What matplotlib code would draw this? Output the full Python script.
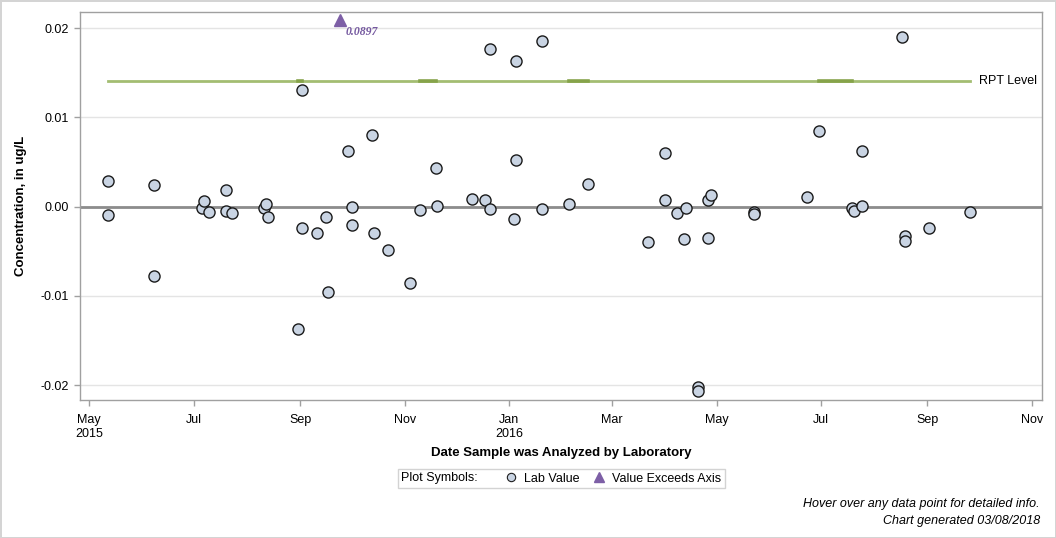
import numpy as np
import pandas as pd
import matplotlib
matplotlib.use("Agg")
import matplotlib.pyplot as plt
import matplotlib.dates as mdates
from matplotlib.lines import Line2D

plt.rcParams["font.family"] = ["Liberation Sans", "DejaVu Sans"]
plt.rcParams["font.size"] = 9

# lab results, one entry per sample
sample_dates = [
    "2015-05-12", "2015-05-12", "2015-06-08", "2015-06-08", "2015-07-06",
    "2015-07-07", "2015-07-10", "2015-07-20", "2015-07-20", "2015-07-23",
    "2015-08-11", "2015-08-12", "2015-08-13", "2015-08-31", "2015-09-02",
    "2015-09-02", "2015-09-11", "2015-09-16", "2015-09-17", "2015-09-29",
    "2015-10-01", "2015-10-01", "2015-10-13", "2015-10-14", "2015-10-22",
    "2015-11-04", "2015-11-10", "2015-11-19", "2015-11-20", "2015-12-10",
    "2015-12-18", "2015-12-21", "2015-12-21", "2016-01-04", "2016-01-05",
    "2016-01-05", "2016-01-20", "2016-01-20", "2016-02-05", "2016-02-16",
    "2016-03-22", "2016-04-01", "2016-04-01", "2016-04-08", "2016-04-12",
    "2016-04-13", "2016-04-20", "2016-04-20", "2016-04-26", "2016-04-26",
    "2016-04-28", "2016-05-23", "2016-05-23", "2016-06-23", "2016-06-30",
    "2016-07-19", "2016-07-20", "2016-07-25", "2016-07-25", "2016-08-17",
    "2016-08-19", "2016-08-19", "2016-09-02", "2016-09-26",
]
lab_values = [
    0.0029, -0.0009, 0.0024, -0.0078, -0.0002,
    0.0006, -0.0006, 0.0019, -0.0005, -0.0007,
    -0.0001, 0.0003, -0.0012, -0.0137, 0.0131,
    -0.0024, -0.0030, -0.0012, -0.0096, 0.0062,
    0.0000, -0.0021, 0.0080, -0.0029, -0.0048,
    -0.0085, -0.0004, 0.0043, 0.0001, 0.0009,
    0.0007, 0.0177, -0.0003, -0.0014, 0.0163,
    0.0052, 0.0186, -0.0003, 0.0003, 0.0025,
    -0.0040, 0.0060, 0.0007, -0.0007, -0.0036,
    -0.0002, -0.0202, -0.0206, 0.0008, -0.0035,
    0.0013, -0.0006, -0.0008, 0.0011, 0.0085,
    -0.0002, -0.0005, 0.0062, 0.0001, 0.0190,
    -0.0033, -0.0039, -0.0024, -0.0006,
]

exceed_dates = ["2015-09-24"]
exceed_values = [0.0897]

rpt_level = 0.0141
rpt_start, rpt_end = "2015-05-12", "2016-09-26"
rpt_overlap = [("2015-08-31", "2015-09-02"), ("2015-11-10", "2015-11-19"),
               ("2016-02-05", "2016-02-16"), ("2016-06-30", "2016-07-19")]

y_ticks = [-0.02, -0.01, 0.0, 0.01, 0.02]
y_ticklabels = ["-0.02", "-0.01", "0.00", "0.01", "0.02"]

x = mdates.date2num(pd.to_datetime(sample_dates))
xe = mdates.date2num(pd.to_datetime(exceed_dates))

fig = plt.figure(figsize=(10.56, 5.38), dpi=100)
fig.patch.set_edgecolor("#d4d4d4")
fig.patch.set_linewidth(2)
ax = fig.add_axes([80 / 1056, 1 - 400 / 538, 962 / 1056, 388 / 538])
ax.xaxis_date()

ax.set_xlim(mdates.date2num(pd.Timestamp("2015-04-25 14:00")),
            mdates.date2num(pd.Timestamp("2016-11-06 20:00")))
ax.set_ylim(-0.02165, 0.0218)
ax.set_yticks(y_ticks)
ax.set_yticklabels(y_ticklabels)
for yv in y_ticks:
    ax.axhline(yv, color="#e4e4e4", lw=1, zorder=0)
ax.axhline(0, color="#8c8c8c", lw=2, zorder=1)

# reporting level
r0, r1 = mdates.date2num(pd.to_datetime([rpt_start, rpt_end]))
ax.plot([r0, r1], [rpt_level] * 2, color="#a3bd72", lw=2, zorder=2)
for a, b in rpt_overlap:
    ax.plot(mdates.date2num(pd.to_datetime([a, b])), [rpt_level] * 2,
            color="#86a34a", lw=2.6, zorder=2)
ax.annotate("RPT Level", (r1, rpt_level), xytext=(6.5, 0),
            textcoords="offset points", ha="left", va="center", fontsize=9)

ax.plot(x, lab_values, linestyle="none", marker="o", ms=8, mfc="#c9d4e3",
        mec="#1a1a1a", mew=1.0, zorder=4)

# values above the axis are drawn at the top with their value
trans = ax.get_xaxis_transform()
ax.plot(xe, [0.979] * len(xe), linestyle="none", marker="^", ms=8, color="#7d5fa6",
        transform=trans, zorder=4, clip_on=False)
for d, v in zip(xe, exceed_values):
    ax.annotate(f"{v:.4f}", (d, 0.979), xycoords=trans, xytext=(4.5, -8.5),
                textcoords="offset points", ha="left", va="center", fontsize=8.5,
                color="#7559a0", fontweight="bold", fontstyle="italic",
                family=["Liberation Serif", "DejaVu Serif"])

ax.xaxis.set_major_locator(mdates.MonthLocator(bymonth=[1, 3, 5, 7, 9, 11]))


def fmt(v, pos):
    d = mdates.num2date(v)
    s = d.strftime("%b")
    if pos == 0 or d.month == 1:
        s += "\n" + d.strftime("%Y")
    return s


ax.xaxis.set_major_formatter(plt.FuncFormatter(fmt))

for s in ax.spines.values():
    s.set_color("#a0a0a0")
    s.set_linewidth(1)
ax.tick_params(axis="both", colors="#a0a0a0", labelcolor="black", length=4, width=1)
ax.tick_params(axis="x", pad=6)
ax.tick_params(axis="y", pad=4)

ax.set_ylabel("Concentration, in ug/L", fontweight="bold", fontsize=9.5)
ax.yaxis.set_label_coords(-0.055, 0.5)
ax.set_xlabel("Date Sample was Analyzed by Laboratory", fontweight="bold", fontsize=9.5)
ax.xaxis.set_label_coords(0.5, -0.121)

handles = [
    Line2D([], [], linestyle="none", marker="None", label="Plot Symbols:    "),
    Line2D([], [], linestyle="none", marker="o", ms=6, mfc="#c9d4e3", mec="#1e1e1e",
           mew=0.8, label="Lab Value"),
    Line2D([], [], linestyle="none", marker="^", ms=7, color="#7d5fa6",
           label="Value Exceeds Axis"),
]
leg = fig.legend(handles=handles, loc="center", bbox_to_anchor=(561.5 / 1056, 1 - 478.5 / 538),
                 ncol=3, frameon=True, fancybox=False, edgecolor="#c8c8c8",
                 handlelength=0.8, handletextpad=0.7, columnspacing=1.1,
                 borderpad=0.3, fontsize=9)
leg.get_frame().set_linewidth(1)
# the "Plot Symbols:" entry has no symbol, so drop its symbol slot
first_row = leg._legend_handle_box.get_children()[0].get_children()[0]
first_row.get_children()[0].width = 0
first_row.sep = 0

fig.text(1040 / 1056, 1 - 504 / 538, "Hover over any data point for detailed info.",
         ha="right", va="center", fontstyle="italic", fontsize=9)
fig.text(1040 / 1056, 1 - 521 / 538, "Chart generated 03/08/2018",
         ha="right", va="center", fontstyle="italic", fontsize=9)

fig.savefig("out.png", dpi=100)
